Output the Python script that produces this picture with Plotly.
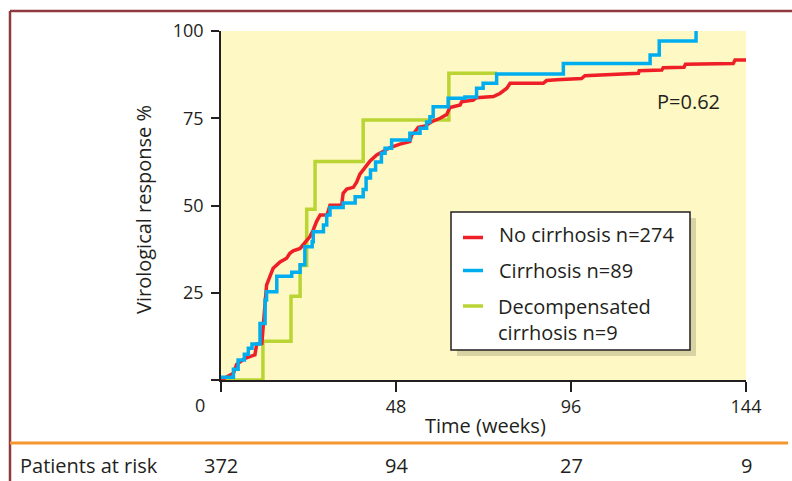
import plotly.graph_objects as go

# ---------------- data ----------------
series_names = ["No cirrhosis n=274", "Cirrhosis n=89", "Decompensated<br>cirrhosis n=9"]

red_weeks = [0, 3.4, 4.3, 6.6, 9.3, 9.8, 11.2, 11.6, 12.5, 13.4, 14.3, 16.2, 18.0, 18.9, 19.8,
             21.7, 23.0, 24.4, 25.3, 26.2, 27.2, 29.1, 29.9, 33.1, 33.5, 34.5, 36.3, 37.2, 38.1,
             39.5, 40.9, 42.7, 44.5, 46.4, 49.1, 51.8, 52.3, 53.2, 54.1, 56.0, 57.8, 60.1, 61.9,
             62.8, 65.6, 66.0, 69.2, 70.1, 74.7, 76.5, 78.4, 79.3, 88.4, 89.3, 92.1, 98.9, 99.8,
             114.5, 114.7, 120.9, 121.3, 127.0, 127.4, 140.5, 141.0, 144.0]
red_pct = [0, 1.9, 4.5, 6.2, 7.2, 10.3, 10.5, 15.3, 27.2, 29.6, 32.0, 33.8, 34.9, 36.3, 37.0,
           37.7, 39.2, 41.1, 43.0, 45.4, 47.3, 47.3, 50.1, 50.1, 53.5, 54.7, 55.2, 56.7, 59.0,
           61.0, 62.8, 64.5, 65.6, 66.6, 67.6, 68.3, 70.2, 71.1, 72.4, 72.8, 74.0, 75.0, 76.1,
           78.1, 78.8, 79.7, 80.2, 80.9, 81.2, 82.1, 83.6, 85.0, 85.0, 85.8, 86.0, 86.4, 87.2,
           87.9, 88.6, 88.8, 89.5, 89.6, 90.5, 90.7, 91.7, 91.7]

blue_weeks = [0, 3.4, 4.7, 6.4, 7.5, 8.5, 10.7, 12.1, 12.5, 15.3, 19.4, 21.7, 23.0, 25.0, 25.3,
              28.1, 29.0, 29.9, 33.5, 36.8, 39.0, 39.8, 41.0, 42.4, 44.0, 45.0, 46.8, 51.8, 54.6,
              56.4, 57.3, 58.2, 62.3, 66.9, 70.1, 71.9, 75.6, 93.9, 117.7, 120.2, 130.3]
blue_pct = [0.8, 3.1, 5.7, 7.4, 9.1, 10.3, 16.2, 22.9, 25.3, 29.7, 30.9, 33.0, 38.2, 39.6, 42.5,
            44.4, 47.3, 49.4, 50.7, 52.5, 54.6, 57.9, 60.2, 62.5, 65.0, 66.4, 68.8, 70.7, 72.1,
            73.9, 75.4, 78.3, 80.7, 81.1, 83.6, 85.0, 87.7, 90.7, 93.1, 97.1, 100]

green_weeks = [0, 11.5, 19.2, 21.7, 23.5, 25.8, 39.0, 62.5, 75.7]
green_pct = [0, 11.1, 24.0, 32.8, 48.9, 62.6, 74.5, 87.9, 87.9]

x_ticks = [0, 48, 96, 144]
x_ticktext = ["", "48", "96", "144"]
y_ticks = [0, 25, 50, 75, 100]
y_ticktext = ["", "25", "50", "75", "100"]

risk_weeks = [0, 48, 96, 144]
risk_counts = ["372", "94", "27", "9"]

p_value_text = "P=0.62"

# ---------------- style ----------------
RED = "#EE1F26"
BLUE = "#00AEEF"
GREEN = "#B9D433"
INK = "#231F20"
FONT = "Open Sans"
W, H = 792, 481
L, R, T, B = 221, 46, 31, 101
PW, PH = W - L - R, H - T - B


def px(x):
    return (x - L) / PW


def py(y):
    return (H - B - y) / PH


fig = go.Figure()
fig.add_trace(go.Scatter(x=green_weeks, y=green_pct, mode="lines", line=dict(color=GREEN, width=3.5, shape="hv"),
                         showlegend=False, hoverinfo="skip"))
fig.add_trace(go.Scatter(x=red_weeks, y=red_pct, mode="lines", line=dict(color=RED, width=3.5, shape="linear"),
                         showlegend=False, hoverinfo="skip"))
fig.add_trace(go.Scatter(x=blue_weeks, y=blue_pct, mode="lines", line=dict(color=BLUE, width=3.5, shape="hv"),
                         showlegend=False, hoverinfo="skip"))

shapes = []
# outer frame lines
shapes.append(dict(type="line", xref="paper", yref="paper", x0=px(10), x1=px(W + 5), y0=py(11), y1=py(11),
                   line=dict(color="#8E3A3F", width=2.5)))
shapes.append(dict(type="line", xref="paper", yref="paper", x0=px(10), x1=px(10), y0=py(11), y1=py(H + 5),
                   line=dict(color="#8E3A3F", width=2.5)))
# orange separator
shapes.append(dict(type="line", xref="paper", yref="paper", x0=px(10), x1=px(788), y0=py(443), y1=py(443),
                   line=dict(color="#F5962F", width=3)))
# legend shadow & box
shapes.append(dict(type="rect", xref="paper", yref="paper", x0=px(457), x1=px(696), y0=py(356), y1=py(218),
                   fillcolor="#D8D3A3", line=dict(width=0)))
shapes.append(dict(type="rect", xref="paper", yref="paper", x0=px(451), x1=px(690), y0=py(350), y1=py(212),
                   fillcolor="white", line=dict(color=INK, width=1.5)))
for col, yy in [(RED, 237.5), (BLUE, 270.5), (GREEN, 306)]:
    shapes.append(dict(type="line", xref="paper", yref="paper", x0=px(463), x1=px(483), y0=py(yy), y1=py(yy),
                       line=dict(color=col, width=3.5)))

ann = []
def text(x, y, s, size=20, xanchor="left", xref="paper", align="left"):
    ann.append(dict(x=x, y=y, xref=xref, yref="paper", text=s, showarrow=False, xanchor=xanchor,
                    yanchor="middle", align=align, font=dict(family=FONT, size=size, color=INK)))

text(px(497), py(235), series_names[0])
text(px(497), py(270), series_names[1])
text(px(496), py(319), series_names[2])
text(px(688), py(101), p_value_text, size=20, xanchor="center")
text(px(200), py(405), "0", size=18, xanchor="center")
text(px(485), py(425), "Time (weeks)", size=20, xanchor="center")
text(px(18), py(465), "Patients at risk", size=20)
for wk, c in zip(risk_weeks, risk_counts):
    text(wk, py(465), c, size=20, xanchor="center", xref="x")
ann.append(dict(x=px(143), y=py(210), xref="paper", yref="paper", text="Virological response %", showarrow=False,
                textangle=-90, xanchor="center", yanchor="middle", font=dict(family=FONT, size=20, color=INK)))

fig.update_layout(
    width=W, height=H,
    margin=dict(l=L, r=R, t=T, b=B),
    paper_bgcolor="white", plot_bgcolor="#FDF8C4",
    shapes=shapes, annotations=ann, showlegend=False,
    font=dict(family=FONT, color=INK),
)
fig.update_xaxes(range=[0, 144], tickvals=x_ticks, ticktext=x_ticktext, ticks="outside", ticklen=10, tickwidth=1.5,
                 tickcolor=INK, showline=True, linecolor=INK, linewidth=1.5, showgrid=False, zeroline=False,
                 tickfont=dict(family=FONT, size=18, color=INK))
fig.update_yaxes(range=[0, 100], tickvals=y_ticks, ticktext=y_ticktext, ticks="outside", ticklen=8, tickwidth=1.5,
                 tickcolor=INK, showline=True, linecolor=INK, linewidth=1.5, showgrid=False, zeroline=False,
                 ticklabelstandoff=4, tickfont=dict(family=FONT, size=18, color=INK))

fig.write_html("out.html", config={"displayModeBar": False},
               post_script="document.body.style.margin='0px';document.body.style.overflow='hidden';")
